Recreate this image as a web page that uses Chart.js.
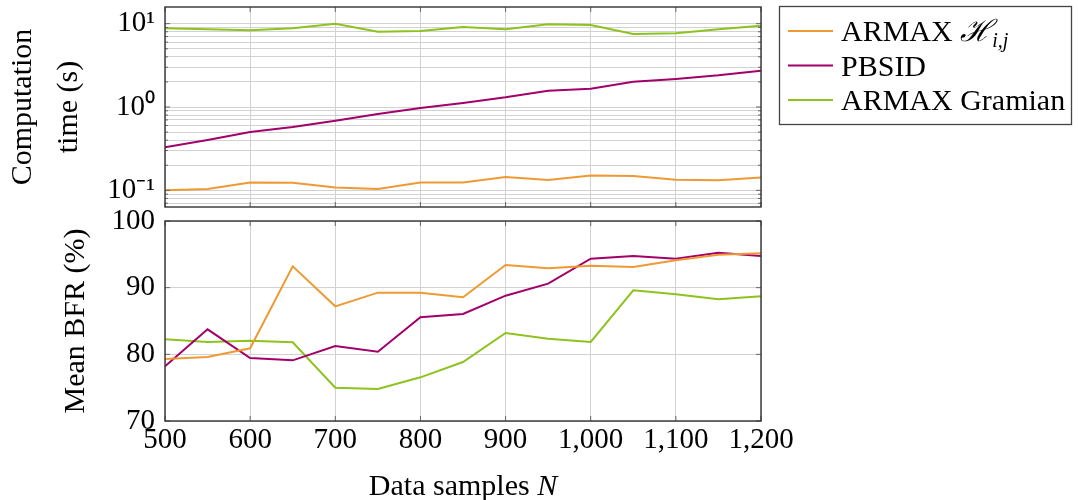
<!DOCTYPE html>
<html>
<head>
<meta charset="utf-8">
<script src="https://cdn.jsdelivr.net/npm/chart.js@4"></script>
<style>
  body { margin: 0; background: #fff; width: 1078px; height: 500px; position: relative; overflow: hidden; }
  canvas { position: absolute; left: 0; }
  #timeChart { top: 0; }
  #bfrChart { top: 195px; }
</style>
</head>
<body>
<canvas id="timeChart" width="1078" height="215"></canvas>
<canvas id="bfrChart" width="800" height="305"></canvas>
<script>
// data samples N
const samples = [500, 550, 600, 650, 700, 750, 800, 850, 900, 950, 1000, 1050, 1100, 1150, 1200];

// computation time (s)
const timeArmaxH  = [0.100, 0.104, 0.124, 0.123, 0.108, 0.104, 0.124, 0.124, 0.145, 0.133, 0.151, 0.149, 0.134, 0.132, 0.143];
const timePbsid   = [0.328, 0.402, 0.501, 0.575, 0.685, 0.824, 0.973, 1.117, 1.306, 1.570, 1.660, 2.010, 2.170, 2.400, 2.730];
const timeGramian = [8.79, 8.55, 8.32, 8.79, 10.0, 8.02, 8.17, 9.12, 8.55, 9.82, 9.64, 7.52, 7.66, 8.55, 9.46];

// mean BFR (%)
const bfrArmaxH  = [79.3, 79.6, 80.9, 93.2, 87.2, 89.25, 89.25, 88.55, 93.4, 92.9, 93.3, 93.1, 94.1, 94.95, 95.15];
const bfrPbsid   = [78.2, 83.75, 79.45, 79.1, 81.25, 80.4, 85.55, 86.05, 88.8, 90.6, 94.35, 94.75, 94.35, 95.25, 94.75];
const bfrGramian = [82.25, 81.85, 82.05, 81.8, 75.0, 74.8, 76.55, 78.85, 83.2, 82.35, 81.85, 89.6, 89.0, 88.25, 88.7];

const seriesNames = ['ARMAX ℋi,j', 'PBSID', 'ARMAX Gramian'];
// legend text pieces: [text, style] with n = upright, i = italic, sub = italic subscript
const legendParts = [
  [['ARMAX ', 'n'], ['ℋ', 'i'], ['i,j', 'sub']],
  [['PBSID', 'n']],
  [['ARMAX Gramian', 'n']]
];
const seriesColors = ['#ee9a34', '#a2006a', '#8dc21f'];

// log axis ticks and labels
const logTicks = [0.07, 0.08, 0.09, 0.1, 0.2, 0.3, 0.4, 0.5, 0.6, 0.7, 0.8, 0.9, 1, 2, 3, 4, 5, 6, 7, 8, 9, 10];
const logTickLabels = { 0.1: '10⁻¹', 1: '10⁰', 10: '10¹' };
const bfrTicks = [70, 80, 90, 100];

const xTitle = 'Data samples ';
const xTitleVar = 'N';

const FONT = '"Liberation Serif", serif';
const gridColor = '#d2d2d2';

function toPoints(vals) {
  return samples.map((n, i) => ({ x: n, y: vals[i] }));
}

function makeDatasets(lists) {
  return lists.map((vals, i) => ({
    label: seriesNames[i],
    data: toPoints(vals),
    borderColor: seriesColors[i],
    backgroundColor: seriesColors[i],
    borderWidth: 2,
    pointRadius: 0,
    tension: 0
  }));
}

// box round the plot and small inward ticks, like pgfplots
const framePlugin = {
  id: 'frame',
  afterDraw(chart) {
    const { ctx, chartArea: a, scales } = chart;
    ctx.save();
    ctx.strokeStyle = '#666';
    ctx.lineWidth = 1;
    scales.x.ticks.forEach(t => {
      const px = scales.x.getPixelForValue(t.value);
      ctx.beginPath();
      ctx.moveTo(px, a.top); ctx.lineTo(px, a.top + 5);
      ctx.moveTo(px, a.bottom); ctx.lineTo(px, a.bottom - 5);
      ctx.stroke();
    });
    scales.y.ticks.forEach(t => {
      const py = scales.y.getPixelForValue(t.value);
      const len = t.label ? 5 : 3;
      ctx.beginPath();
      ctx.moveTo(a.left, py); ctx.lineTo(a.left + len, py);
      ctx.moveTo(a.right, py); ctx.lineTo(a.right - len, py);
      ctx.stroke();
    });
    ctx.strokeStyle = '#333';
    ctx.lineWidth = 1.4;
    ctx.strokeRect(a.left, a.top, a.right - a.left, a.bottom - a.top);
    ctx.restore();
  }
};

// legend outside the plot, on the right
const legendPlugin = {
  id: 'sideLegend',
  afterDraw(chart) {
    const { ctx, chartArea: a } = chart;
    const boxX = a.right + 18, boxY = 6, boxW = 292, boxH = 118;
    ctx.save();
    ctx.strokeStyle = '#444';
    ctx.lineWidth = 1.3;
    ctx.strokeRect(boxX + 0.5, boxY + 0.5, boxW, boxH);
    chart.data.datasets.forEach((ds, i) => {
      const cy = boxY + 25 + i * 34.5;
      ctx.strokeStyle = ds.borderColor;
      ctx.lineWidth = 2;
      ctx.beginPath();
      ctx.moveTo(boxX + 9, cy);
      ctx.lineTo(boxX + 54, cy);
      ctx.stroke();
      let x = boxX + 62;
      const base = cy + 10;
      ctx.fillStyle = '#000';
      ctx.textBaseline = 'alphabetic';
      ctx.textAlign = 'left';
      legendParts[i].forEach(([txt, style]) => {
        let y = base;
        if (style === 'n') ctx.font = '30px ' + FONT;
        else if (style === 'i') ctx.font = 'italic 30px ' + FONT;
        else { ctx.font = 'italic 20px ' + FONT; y = base + 6; }
        ctx.fillText(txt, x, y);
        x += ctx.measureText(txt).width;
      });
    });
    ctx.restore();
  }
};

// x axis title with an italic N
const xTitlePlugin = {
  id: 'xTitle',
  afterDraw(chart) {
    const { ctx, chartArea: a } = chart;
    ctx.save();
    ctx.fillStyle = '#000';
    ctx.textBaseline = 'middle';
    ctx.textAlign = 'left';
    const normal = '30px ' + FONT;
    const italic = 'italic 30px ' + FONT;
    ctx.font = normal;
    const w1 = ctx.measureText(xTitle).width;
    ctx.font = italic;
    const w2 = ctx.measureText(xTitleVar).width;
    const x0 = (a.left + a.right) / 2 - (w1 + w2) / 2;
    const y = chart.height - 13;
    ctx.font = normal;
    ctx.fillText(xTitle, x0, y);
    ctx.font = italic;
    ctx.fillText(xTitleVar, x0 + w1, y);
    ctx.restore();
  }
};

const xBase = {
  type: 'linear',
  min: 500,
  max: 1200,
  grid: { color: gridColor, drawTicks: false },
  border: { display: false }
};

// top: computation time
new Chart(document.getElementById('timeChart'), {
  type: 'line',
  data: { datasets: makeDatasets([timeArmaxH, timePbsid, timeGramian]) },
  options: {
    responsive: false,
    animation: false,
    layout: { padding: { top: 7, right: 317, left: 0, bottom: 0 } },
    plugins: { legend: { display: false }, tooltip: { enabled: false } },
    scales: {
      x: Object.assign({}, xBase, {
        ticks: { display: false, stepSize: 100 },
        afterFit: s => { s.height = 8; s.paddingLeft = 0; s.paddingRight = 0; }
      }),
      y: {
        type: 'logarithmic',
        min: Math.pow(10, -1.2),
        max: Math.pow(10, 1.2),
        afterBuildTicks: s => { s.ticks = logTicks.map(v => ({ value: v })); },
        afterFit: s => { s.width = 165; s.paddingTop = 0; s.paddingBottom = 0; },
        grid: { color: gridColor, drawTicks: false },
        border: { display: false },
        ticks: {
          autoSkip: false,
          padding: 10,
          color: '#000',
          font: { family: FONT, size: 29 },
          callback: v => logTickLabels[v] || ''
        },
        title: {
          display: true,
          text: ['Computation', 'time (s)'],
          color: '#000',
          padding: 0,
          font: { family: FONT, size: 30, lineHeight: 1.53 }
        }
      }
    }
  },
  plugins: [framePlugin, legendPlugin]
});

// bottom: mean BFR
new Chart(document.getElementById('bfrChart'), {
  type: 'line',
  data: { datasets: makeDatasets([bfrArmaxH, bfrPbsid, bfrGramian]) },
  options: {
    responsive: false,
    animation: false,
    layout: { padding: { top: 26, right: 39, left: 0, bottom: 0 } },
    plugins: { legend: { display: false }, tooltip: { enabled: false } },
    scales: {
      x: Object.assign({}, xBase, {
        ticks: {
          stepSize: 100,
          autoSkip: false,
          maxRotation: 0,
          padding: 2,
          color: '#000',
          font: { family: FONT, size: 29 },
          callback: v => v.toLocaleString('en-US')
        },
        afterFit: s => { s.height = 79; }
      }),
      y: {
        type: 'linear',
        min: 70,
        max: 100,
        afterBuildTicks: s => { s.ticks = bfrTicks.map(v => ({ value: v })); },
        afterFit: s => { s.width = 165; s.paddingTop = 0; s.paddingBottom = 0; },
        grid: { color: gridColor, drawTicks: false },
        border: { display: false },
        ticks: {
          autoSkip: false,
          padding: 10,
          color: '#000',
          font: { family: FONT, size: 29 }
        },
        title: {
          display: true,
          text: 'Mean BFR (%)',
          color: '#000',
          padding: { top: 58, bottom: 0 },
          font: { family: FONT, size: 30, lineHeight: 1.2 }
        }
      }
    }
  },
  plugins: [framePlugin, xTitlePlugin]
});
</script>
</body>
</html>
